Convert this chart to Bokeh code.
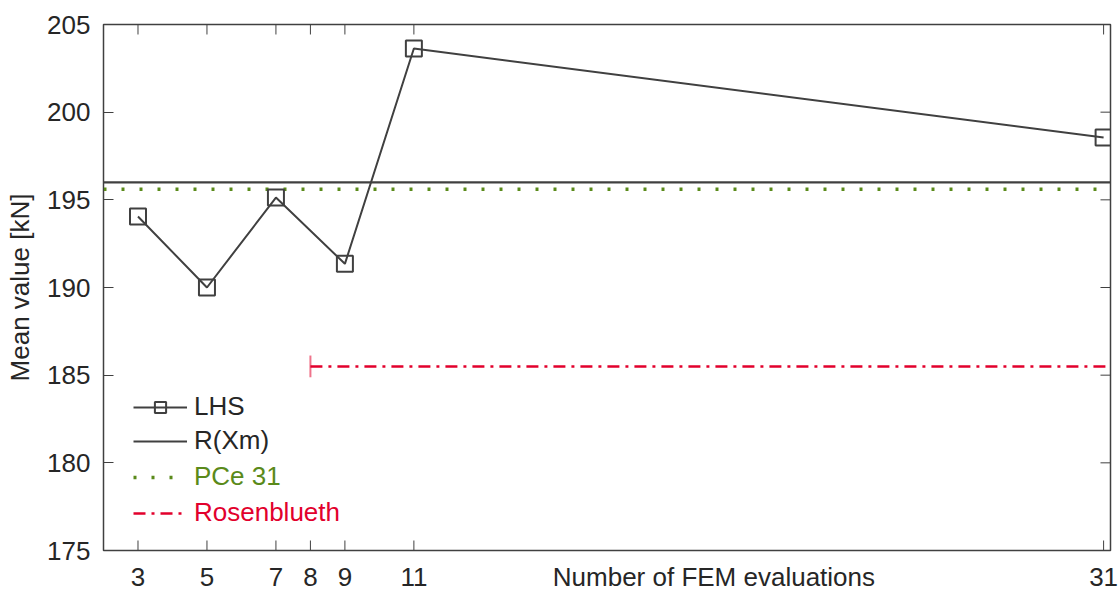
from bokeh.plotting import figure
from bokeh.models import Range1d, FixedTicker, Legend, LegendItem
from bokeh.embed import file_html
from bokeh.resources import INLINE

# ---- data ----
lhs_n = [3, 5, 7, 9, 11, 31]
lhs_mean = [194.05, 190.0, 195.13, 191.35, 203.63, 198.55]
r_xm = 196.0
pce31 = 195.6
rosen = 185.5
rosen_n = 8
rosen_cap = 0.62
x_ticks = [3, 5, 7, 8, 9, 11, 31]
y_ticks = [175, 180, 185, 190, 195, 200, 205]
x_label = "Number of FEM evaluations"
x_label_pos = 19.7
x_lo, x_hi = 2, 31.2
y_lo, y_hi = 175, 205

FONT = "Liberation Sans"
FS = "26px"
DARK = "#404040"
TXT = "#262626"
GREEN = "#5a8a1a"
RED = "#e2002c"
TICK_Y = 0.57   # inward tick length (data units, y)
TICK_X = 0.29   # inward tick length (data units, x)

p = figure(frame_width=1007, frame_height=526, output_backend="svg",
           toolbar_location=None, x_range=Range1d(x_lo, x_hi),
           y_range=Range1d(y_lo, y_hi), min_border_left=103,
           min_border_top=24, min_border_bottom=42, min_border_right=8)
p.xgrid.visible = False
p.ygrid.visible = False
p.outline_line_color = DARK
p.outline_line_width = 1.5

for ax in (p.xaxis[0], p.yaxis[0]):
    ax.axis_line_color = DARK
    ax.major_tick_line_color = DARK
    ax.major_tick_out = 0
    ax.minor_tick_line_color = None
    ax.major_label_text_font = FONT
    ax.major_label_text_font_size = FS
    ax.major_label_text_color = TXT

# x axis: tick labels plus the axis title sitting in the tick-label row
p.xaxis[0].ticker = FixedTicker(ticks=x_ticks + [x_label_pos])
p.xaxis[0].major_label_overrides = {x_label_pos: x_label}
p.xaxis[0].major_tick_in = 0
p.xaxis[0].major_label_standoff = 11

p.yaxis[0].ticker = FixedTicker(ticks=y_ticks)
p.yaxis[0].major_tick_in = 10
p.yaxis[0].major_label_standoff = 13
p.yaxis[0].axis_label = "Mean value [kN]"
p.yaxis[0].axis_label_text_font = FONT
p.yaxis[0].axis_label_text_font_size = FS
p.yaxis[0].axis_label_text_font_style = "normal"
p.yaxis[0].axis_label_text_color = TXT
p.yaxis[0].axis_label_standoff = 9

# inward box ticks (bottom, top, right)
nx, ny = len(x_ticks), len(y_ticks)
p.segment(x0=x_ticks, x1=x_ticks, y0=[y_lo] * nx, y1=[y_lo + TICK_Y] * nx,
          line_color=DARK, line_width=1)
p.segment(x0=x_ticks, x1=x_ticks, y0=[y_hi] * nx, y1=[y_hi - TICK_Y] * nx,
          line_color=DARK, line_width=1)
p.segment(x0=[x_hi] * ny, x1=[x_hi - TICK_X] * ny, y0=y_ticks, y1=y_ticks,
          line_color=DARK, line_width=1)

# lines
r_rx = p.line([x_lo, x_hi + 1], [r_xm, r_xm], line_color=DARK, line_width=2.2)
r_pce = p.line([x_lo, x_hi + 1], [pce31, pce31], line_color=GREEN,
               line_width=3.5, line_dash="3 15")
r_ros = p.line([rosen_n, x_hi + 1], [rosen, rosen], line_color=RED,
               line_width=2.5, line_dash="12 6 3 6")
p.segment(x0=[rosen_n], y0=[rosen - rosen_cap], x1=[rosen_n],
          y1=[rosen + rosen_cap], line_color=RED, line_alpha=0.55, line_width=2)
r_lhs_l = p.line(lhs_n, lhs_mean, line_color=DARK, line_width=2)
r_lhs_m = p.scatter(lhs_n, lhs_mean, marker="square", size=16,
                    fill_color="white", fill_alpha=0, line_color=DARK,
                    line_width=2)

# legends: one per item so each label keeps its own colour
entries = [("LHS", [r_lhs_l, r_lhs_m], TXT, 128),
           ("R(Xm)", [r_rx], TXT, 94),
           ("PCe 31", [r_pce], GREEN, 58),
           ("Rosenblueth", [r_ros], RED, 22)]
for lab, rs, col, yb in entries:
    lg = Legend(items=[LegendItem(label=lab, renderers=rs)], location=(30, yb),
                border_line_color=None, background_fill_alpha=0,
                padding=0, margin=0, glyph_width=54, glyph_height=28,
                label_standoff=7, label_text_font=FONT,
                label_text_font_size=FS, label_text_color=col)
    p.add_layout(lg, "center")

open("out.html", "w").write(file_html(p, INLINE))
